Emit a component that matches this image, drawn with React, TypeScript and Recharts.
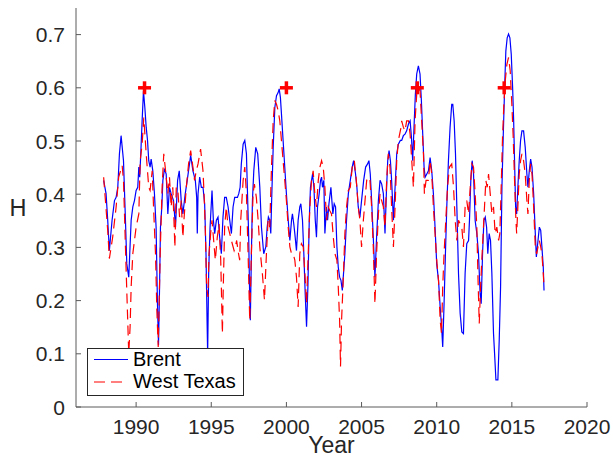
import {
  ComposedChart,
  Line,
  Scatter,
  XAxis,
  YAxis,
  Legend,
} from 'recharts';

const FONT = '"Liberation Sans", Arial, Helvetica, sans-serif';
const TEXT = '#262626';
const FRAME = '#5a5a5a';

const yearTicks = [1990, 1995, 2000, 2005, 2010, 2015, 2020];
const hTicks = [0, 0.1, 0.2, 0.3, 0.4, 0.5, 0.6, 0.7];

const brentYear = [
  1987.84, 1988.0, 1988.11, 1988.22, 1988.4, 1988.56, 1988.67, 1988.78, 1988.89, 1989.0,
  1989.16, 1989.29, 1989.38, 1989.51, 1989.67, 1989.78, 1989.89, 1990.0, 1990.11, 1990.18,
  1990.24, 1990.31, 1990.4, 1990.49, 1990.58, 1990.67, 1990.76, 1990.84, 1990.93, 1991.0,
  1991.11, 1991.22, 1991.33, 1991.42, 1991.49, 1991.56, 1991.62, 1991.71, 1991.78, 1991.89,
  1992.0, 1992.11, 1992.22, 1992.33, 1992.49, 1992.62, 1992.76, 1992.87, 1993.0, 1993.11,
  1993.27, 1993.4, 1993.63, 1993.78, 1993.94, 1994.03, 1994.07, 1994.12, 1994.23, 1994.34,
  1994.45, 1994.56, 1994.65, 1994.72, 1994.76, 1994.83, 1994.92, 1995.05, 1995.14, 1995.23,
  1995.34, 1995.45, 1995.56, 1995.67, 1995.78, 1995.89, 1996.0, 1996.12, 1996.23, 1996.34,
  1996.45, 1996.56, 1996.74, 1996.83, 1996.92, 1997.0, 1997.12, 1997.23, 1997.34, 1997.4,
  1997.49, 1997.56, 1997.6, 1997.67, 1997.74, 1997.83, 1997.96, 1998.09, 1998.23, 1998.34,
  1998.49, 1998.63, 1998.72, 1998.8, 1998.89, 1998.96, 1999.03, 1999.12, 1999.23, 1999.34,
  1999.45, 1999.52, 1999.6, 1999.67, 1999.78, 1999.89, 2000.0, 2000.12, 2000.23, 2000.34,
  2000.4, 2000.49, 2000.56, 2000.67, 2000.78, 2000.89, 2000.96, 2001.07, 2001.16, 2001.25,
  2001.34, 2001.43, 2001.52, 2001.6, 2001.74, 2001.83, 2001.92, 2002.0, 2002.07, 2002.18,
  2002.27, 2002.34, 2002.4, 2002.49, 2002.56, 2002.67, 2002.74, 2002.83, 2002.96, 2003.09,
  2003.18, 2003.27, 2003.36, 2003.45, 2003.54, 2003.63, 2003.72, 2003.8, 2003.89, 2004.0,
  2004.12, 2004.25, 2004.38, 2004.47, 2004.6, 2004.69, 2004.78, 2004.89, 2005.0, 2005.14,
  2005.27, 2005.4, 2005.49, 2005.58, 2005.67, 2005.78, 2005.89, 2006.0, 2006.12, 2006.23,
  2006.34, 2006.45, 2006.56, 2006.65, 2006.74, 2006.83, 2006.92, 2007.0, 2007.12, 2007.23,
  2007.34, 2007.45, 2007.58, 2007.67, 2007.78, 2007.89, 2008.0, 2008.12, 2008.23, 2008.32,
  2008.4, 2008.49, 2008.58, 2008.67, 2008.78, 2008.89, 2008.98, 2009.07, 2009.16, 2009.23,
  2009.34, 2009.45, 2009.56, 2009.67, 2009.78, 2009.89, 2010.0, 2010.12, 2010.23, 2010.34,
  2010.4, 2010.49, 2010.58, 2010.67, 2010.78, 2010.89, 2011.0, 2011.07, 2011.16, 2011.25,
  2011.34, 2011.45, 2011.56, 2011.67, 2011.78, 2011.89, 2012.0, 2012.12, 2012.18, 2012.27,
  2012.36, 2012.45, 2012.56, 2012.67, 2012.78, 2012.89, 2012.96, 2013.05, 2013.14, 2013.23,
  2013.32, 2013.4, 2013.49, 2013.58, 2013.67, 2013.78, 2013.85, 2013.94, 2014.07, 2014.16,
  2014.25, 2014.34, 2014.43, 2014.52, 2014.6, 2014.69, 2014.78, 2014.87, 2014.96, 2015.05,
  2015.12, 2015.18, 2015.25, 2015.32, 2015.4, 2015.49, 2015.58, 2015.67, 2015.78, 2015.89,
  2016.0, 2016.07, 2016.16, 2016.25, 2016.34, 2016.45, 2016.56, 2016.63, 2016.74, 2016.83,
  2016.92, 2017.0, 2017.09, 2017.14,
];
const brentH = [
  0.426, 0.401, 0.351, 0.294, 0.351, 0.388, 0.394, 0.413, 0.476, 0.51,
  0.463, 0.351, 0.269, 0.244, 0.351, 0.376, 0.388, 0.407, 0.413, 0.451,
  0.432, 0.476, 0.538, 0.594, 0.563, 0.526, 0.501, 0.463, 0.451, 0.466,
  0.444, 0.401, 0.338, 0.194, 0.116, 0.226, 0.338, 0.376, 0.426, 0.448,
  0.438, 0.363, 0.413, 0.401, 0.388, 0.338, 0.426, 0.444, 0.388, 0.363,
  0.401, 0.426, 0.473, 0.444, 0.426, 0.394, 0.326, 0.401, 0.432, 0.413,
  0.413, 0.382, 0.288, 0.163, 0.1, 0.257, 0.338, 0.407, 0.351, 0.326,
  0.351, 0.357, 0.319, 0.288, 0.357, 0.394, 0.394, 0.376, 0.351, 0.326,
  0.376, 0.394, 0.394, 0.401, 0.413, 0.457, 0.494, 0.501, 0.476, 0.413,
  0.319, 0.201, 0.163, 0.288, 0.388, 0.444, 0.488, 0.476, 0.413, 0.338,
  0.288, 0.301, 0.338, 0.357, 0.351, 0.326, 0.401, 0.488, 0.563, 0.585,
  0.591, 0.598, 0.582, 0.551, 0.501, 0.451, 0.401, 0.351, 0.313, 0.351,
  0.363, 0.344, 0.326, 0.294, 0.351, 0.376, 0.382, 0.351, 0.288, 0.213,
  0.151, 0.226, 0.351, 0.413, 0.438, 0.413, 0.351, 0.319, 0.376, 0.401,
  0.426, 0.432, 0.413, 0.426, 0.326, 0.376, 0.351, 0.382, 0.413, 0.363,
  0.382, 0.376, 0.301, 0.263, 0.244, 0.238, 0.219, 0.251, 0.288, 0.351,
  0.401, 0.426, 0.451, 0.463, 0.438, 0.413, 0.376, 0.357, 0.388, 0.426,
  0.451, 0.457, 0.463, 0.438, 0.388, 0.319, 0.244, 0.319, 0.388, 0.426,
  0.419, 0.401, 0.326, 0.401, 0.463, 0.482, 0.463, 0.426, 0.351, 0.413,
  0.476, 0.494, 0.501, 0.501, 0.51, 0.513, 0.519, 0.532, 0.538, 0.507,
  0.463, 0.526, 0.588, 0.626, 0.641, 0.626, 0.576, 0.513, 0.451, 0.432,
  0.438, 0.444, 0.469, 0.444, 0.401, 0.338, 0.269, 0.238, 0.188, 0.144,
  0.113, 0.194, 0.288, 0.376, 0.463, 0.526, 0.569, 0.569, 0.538, 0.476,
  0.376, 0.251, 0.176, 0.141, 0.138, 0.251, 0.307, 0.313, 0.351, 0.426,
  0.463, 0.438, 0.35, 0.326, 0.288, 0.213, 0.194, 0.288, 0.351, 0.357,
  0.338, 0.288, 0.326, 0.313, 0.251, 0.138, 0.101, 0.051, 0.051, 0.126,
  0.226, 0.413, 0.513, 0.601, 0.669, 0.694, 0.701, 0.694, 0.663, 0.601,
  0.538, 0.463, 0.376, 0.363, 0.413, 0.463, 0.501, 0.519, 0.519, 0.488,
  0.438, 0.413, 0.444, 0.466, 0.451, 0.401, 0.326, 0.282, 0.313, 0.338,
  0.332, 0.301, 0.263, 0.219,
];

const wtiYear = [
  1987.84, 1988.11, 1988.22, 1988.44, 1988.67, 1988.84, 1989.07, 1989.16, 1989.33, 1989.44,
  1989.51, 1989.6, 1989.67, 1989.78, 1990.0, 1990.18, 1990.27, 1990.4, 1990.51, 1990.67,
  1990.84, 1990.93, 1991.07, 1991.16, 1991.29, 1991.38, 1991.47, 1991.6, 1991.73, 1991.84,
  1991.96, 1992.11, 1992.22, 1992.33, 1992.44, 1992.58, 1992.67, 1992.78, 1992.89, 1993.0,
  1993.11, 1993.18, 1993.34, 1993.49, 1993.63, 1993.78, 1993.89, 1994.0, 1994.12, 1994.29,
  1994.45, 1994.52, 1994.6, 1994.69, 1994.78, 1994.85, 1994.96, 1995.05, 1995.16, 1995.27,
  1995.4, 1995.52, 1995.63, 1995.74, 1995.8, 1995.89, 1996.0, 1996.12, 1996.23, 1996.34,
  1996.52, 1996.6, 1996.69, 1996.78, 1996.89, 1996.96, 1997.12, 1997.23, 1997.34, 1997.45,
  1997.56, 1997.67, 1997.78, 1997.87, 1998.0, 1998.12, 1998.23, 1998.4, 1998.54, 1998.67,
  1998.78, 1998.89, 1999.0, 1999.12, 1999.23, 1999.34, 1999.45, 1999.56, 1999.67, 1999.78,
  1999.89, 2000.0, 2000.12, 2000.23, 2000.34, 2000.45, 2000.56, 2000.67, 2000.78, 2000.89,
  2001.0, 2001.12, 2001.23, 2001.34, 2001.45, 2001.56, 2001.67, 2001.78, 2001.89, 2002.0,
  2002.12, 2002.23, 2002.34, 2002.45, 2002.56, 2002.67, 2002.78, 2002.89, 2003.0, 2003.12,
  2003.23, 2003.36, 2003.45, 2003.54, 2003.6, 2003.67, 2003.78, 2003.89, 2004.0, 2004.12,
  2004.25, 2004.38, 2004.52, 2004.65, 2004.78, 2004.89, 2005.0, 2005.12, 2005.23, 2005.34,
  2005.45, 2005.56, 2005.67, 2005.78, 2005.89, 2006.0, 2006.12, 2006.23, 2006.34, 2006.45,
  2006.56, 2006.67, 2006.78, 2006.89, 2007.0, 2007.12, 2007.23, 2007.34, 2007.45, 2007.63,
  2007.67, 2007.78, 2007.89, 2008.0, 2008.12, 2008.23, 2008.34, 2008.45, 2008.56, 2008.67,
  2008.78, 2008.89, 2009.0, 2009.12, 2009.18, 2009.29, 2009.45, 2009.56, 2009.67, 2009.78,
  2009.89, 2010.0, 2010.12, 2010.23, 2010.32, 2010.4, 2010.49, 2010.58, 2010.72, 2010.85,
  2011.0, 2011.12, 2011.23, 2011.34, 2011.45, 2011.56, 2011.67, 2011.78, 2011.89, 2012.0,
  2012.12, 2012.23, 2012.34, 2012.45, 2012.56, 2012.67, 2012.74, 2012.83, 2012.92, 2013.0,
  2013.09, 2013.18, 2013.27, 2013.36, 2013.45, 2013.56, 2013.67, 2013.78, 2013.89, 2014.0,
  2014.12, 2014.2, 2014.29, 2014.38, 2014.47, 2014.56, 2014.67, 2014.78, 2014.89, 2015.0,
  2015.09, 2015.18, 2015.27, 2015.32, 2015.4, 2015.49, 2015.58, 2015.67, 2015.78, 2015.89,
  2016.0, 2016.07, 2016.16, 2016.25, 2016.34, 2016.45, 2016.56, 2016.65, 2016.74, 2016.83,
  2016.92, 2017.0, 2017.09, 2017.14,
];
const wtiH = [
  0.432, 0.332, 0.279, 0.319, 0.376, 0.432, 0.454, 0.426, 0.263, 0.163,
  0.1, 0.151, 0.226, 0.288, 0.338, 0.363, 0.463, 0.494, 0.544, 0.476,
  0.413, 0.407, 0.444, 0.376, 0.288, 0.182, 0.113, 0.288, 0.413, 0.476,
  0.444, 0.401, 0.432, 0.376, 0.413, 0.3, 0.413, 0.407, 0.357, 0.388,
  0.319, 0.351, 0.413, 0.457, 0.482, 0.451, 0.426, 0.444, 0.457, 0.485,
  0.444, 0.401, 0.338, 0.226, 0.207, 0.288, 0.326, 0.351, 0.313, 0.276,
  0.319, 0.344, 0.276, 0.138, 0.226, 0.338, 0.376, 0.338, 0.326, 0.313,
  0.294, 0.301, 0.313, 0.294, 0.276, 0.351, 0.426, 0.451, 0.401, 0.288,
  0.163, 0.288, 0.401, 0.419, 0.394, 0.351, 0.301, 0.251, 0.201, 0.288,
  0.351, 0.338, 0.444, 0.538, 0.576, 0.569, 0.557, 0.538, 0.501, 0.463,
  0.426, 0.388, 0.338, 0.301, 0.288, 0.288, 0.276, 0.244, 0.188, 0.288,
  0.307, 0.301, 0.251, 0.194, 0.288, 0.376, 0.426, 0.444, 0.401, 0.376,
  0.426, 0.451, 0.463, 0.451, 0.413, 0.351, 0.376, 0.369, 0.363, 0.319,
  0.288, 0.276, 0.226, 0.163, 0.076, 0.163, 0.238, 0.326, 0.376, 0.407,
  0.413, 0.451, 0.463, 0.426, 0.376, 0.351, 0.301, 0.351, 0.388, 0.426,
  0.432, 0.426, 0.376, 0.301, 0.194, 0.288, 0.363, 0.401, 0.388, 0.376,
  0.338, 0.426, 0.476, 0.451, 0.376, 0.301, 0.376, 0.463, 0.501, 0.526,
  0.538, 0.526, 0.519, 0.538, 0.538, 0.513, 0.463, 0.413, 0.538, 0.588,
  0.601, 0.594, 0.538, 0.476, 0.401, 0.426, 0.426, 0.463, 0.438, 0.376,
  0.326, 0.276, 0.238, 0.163, 0.138, 0.226, 0.288, 0.338, 0.413, 0.451,
  0.457, 0.413, 0.351, 0.313, 0.351, 0.344, 0.338, 0.301, 0.376, 0.388,
  0.363, 0.413, 0.457, 0.451, 0.4, 0.338, 0.251, 0.157, 0.226, 0.276,
  0.326, 0.376, 0.426, 0.413, 0.438, 0.401, 0.363, 0.376, 0.326, 0.338,
  0.313, 0.326, 0.413, 0.507, 0.569, 0.613, 0.644, 0.657, 0.632, 0.569,
  0.507, 0.426, 0.351, 0.326, 0.376, 0.438, 0.463, 0.476, 0.463, 0.438,
  0.388, 0.363, 0.426, 0.457, 0.438, 0.376, 0.301, 0.288, 0.301, 0.313,
  0.301, 0.288, 0.251, 0.226,
];

// the four red "+" markers
const peakYear = [1990.56, 2000.0, 2008.71, 2014.49];
const peakH = [0.6, 0.6, 0.6, 0.6];

const brent = brentYear.map((year, i) => ({ year, h: brentH[i] }));
const wti = wtiYear.map((year, i) => ({ year, h: wtiH[i] }));
const peaks = peakYear.map((year, i) => ({ year, h: peakH[i] }));

const BottomTick = ({ x, y, payload }: any) => (
  <g>
    <line x1={x} y1={y} x2={x} y2={y - 5} stroke={FRAME} />
    <text x={x} y={y + 27} textAnchor="middle" fontSize={21} fill={TEXT} fontFamily={FONT}>
      {payload.value}
    </text>
  </g>
);

const LeftTick = ({ x, y, payload }: any) => (
  <g>
    <line x1={x} y1={y} x2={x + 5} y2={y} stroke={FRAME} />
    <text x={x - 11} y={y} dy="0.36em" textAnchor="end" fontSize={21} fill={TEXT} fontFamily={FONT}>
      {payload.value}
    </text>
  </g>
);

const TopTick = ({ x, y }: any) => <line x1={x} y1={y} x2={x} y2={y + 5} stroke={FRAME} />;
const RightTick = ({ x, y }: any) => <line x1={x} y1={y} x2={x - 5} y2={y} stroke={FRAME} />;

const PlusMark = ({ cx, cy }: any) => (
  <g stroke="#ff0000" strokeWidth={3.5}>
    <line x1={cx - 6.5} y1={cy} x2={cx + 6.5} y2={cy} />
    <line x1={cx} y1={cy - 6.5} x2={cx} y2={cy + 6.5} />
  </g>
);

const renderLegend = () => (
  <svg width={157} height={48} style={{ display: 'block' }}>
    <rect x={0.5} y={0.5} width={156} height={47} fill="#fff" stroke="#262626" />
    <line x1={7} y1={11.5} x2={41} y2={11.5} stroke="#0000ff" strokeWidth={1.2} />
    <text x={46} y={18} fontSize={20} fill="#000" fontFamily={FONT}>
      Brent
    </text>
    <line x1={7} y1={34} x2={41} y2={34} stroke="#ff0000" strokeWidth={1.2} strokeDasharray="11 6" />
    <text x={46} y={40} fontSize={20} fill="#000" fontFamily={FONT}>
      West Texas
    </text>
  </svg>
);

export default function App() {
  return (
    <div style={{ position: 'absolute', left: 0, top: 0, width: 613, height: 459, background: '#fff' }}>
      <ComposedChart width={613} height={459} margin={{ top: 8, right: 26, bottom: 0, left: 0 }}>
        <XAxis
          dataKey="year"
          type="number"
          domain={[1986, 2020]}
          ticks={yearTicks}
          interval={0}
          allowDataOverflow
          height={52}
          tickSize={0}
          tickMargin={0}
          tickLine={false}
          axisLine={{ stroke: FRAME }}
          tick={<BottomTick />}
          label={({ viewBox }: any) => (
            <text
              x={viewBox.x + viewBox.width / 2}
              y={viewBox.y + 46}
              textAnchor="middle"
              fontSize={23}
              fill={TEXT}
              fontFamily={FONT}
            >
              Year
            </text>
          )}
        />
        <XAxis
          xAxisId="top"
          orientation="top"
          dataKey="year"
          type="number"
          domain={[1986, 2020]}
          ticks={yearTicks}
          interval={0}
          height={0}
          tickSize={0}
          tickMargin={0}
          tickLine={false}
          axisLine={{ stroke: FRAME }}
          tick={<TopTick />}
        />
        <YAxis
          dataKey="h"
          type="number"
          domain={[0, 0.75]}
          ticks={hTicks}
          interval={0}
          allowDataOverflow
          width={76}
          tickSize={0}
          tickMargin={0}
          tickLine={false}
          axisLine={{ stroke: FRAME }}
          tick={<LeftTick />}
          label={({ viewBox }: any) => (
            <text
              x={18}
              y={viewBox.y + viewBox.height / 2}
              dy="0.36em"
              textAnchor="middle"
              fontSize={23.5}
              fill={TEXT}
              fontFamily={FONT}
            >
              H
            </text>
          )}
        />
        <YAxis
          yAxisId="right"
          orientation="right"
          type="number"
          domain={[0, 0.75]}
          ticks={hTicks}
          interval={0}
          width={0}
          tickSize={0}
          tickMargin={0}
          tickLine={false}
          axisLine={{ stroke: FRAME }}
          tick={<RightTick />}
        />
        <Line
          data={brent}
          dataKey="h"
          name="Brent"
          type="linear"
          stroke="#0000ff"
          strokeWidth={1.2}
          dot={false}
          activeDot={false}
          isAnimationActive={false}
        />
        <Line
          data={wti}
          dataKey="h"
          name="West Texas"
          type="linear"
          stroke="#ff0000"
          strokeWidth={1.2}
          strokeDasharray="10 6"
          dot={false}
          activeDot={false}
          isAnimationActive={false}
        />
        <Scatter data={peaks} dataKey="h" shape={<PlusMark />} isAnimationActive={false} />
        <Legend
          layout="vertical"
          align="center"
          verticalAlign="middle"
          content={renderLegend}
          wrapperStyle={{ left: 87, top: 348, width: 157, height: 48 }}
        />
      </ComposedChart>
    </div>
  );
}
